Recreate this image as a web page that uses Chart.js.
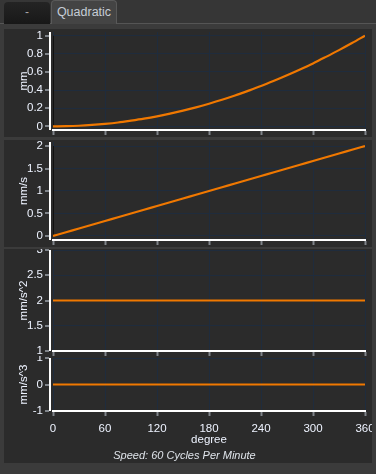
<!DOCTYPE html>
<html>
<head>
<meta charset="utf-8">
<script src="https://cdn.jsdelivr.net/npm/chart.js@4.4.1/dist/chart.umd.min.js"></script>
<style>
body { margin: 0; width: 376px; height: 474px; overflow: hidden; background: #3b3b3b; position: relative; font-family: "Liberation Sans", Arial, sans-serif; }
.tabbar { position: absolute; left: 0; top: 0; width: 376px; height: 23px; background: #363636; border-bottom: 1px solid #555; }
.tab { position: absolute; box-sizing: border-box; text-align: center; border-radius: 4px 4px 0 0; }
#tabDash { left: 4px; top: 2px; width: 46px; height: 22px; background: linear-gradient(#242424, #181818); color: #a8a8a8; font-size: 12px; line-height: 21px; }
#tabQuad { left: 51px; top: 0; width: 66px; height: 24px; background: #444; border: 1px solid #595959; border-bottom: none; color: #c6cdd6; font-size: 12.5px; line-height: 23px; }
.panel { position: absolute; left: 4px; width: 368px; background: #2b2b2b; overflow: hidden; }
.panel canvas { position: absolute; left: 0; top: 0; }
</style>
</head>
<body>
<div class="tabbar"></div>
<div class="tab" id="tabDash">-</div>
<div class="tab" id="tabQuad">Quadratic</div>
<div class="panel" style="top:29px;height:108px"><canvas id="pos" width="368" height="108"></canvas></div>
<div class="panel" style="top:140px;height:107px"><canvas id="vel" width="368" height="107"></canvas></div>
<div class="panel" style="top:249px;height:107px"><canvas id="acc" width="368" height="107"></canvas></div>
<div class="panel" style="top:356px;height:107px"><canvas id="jerk" width="368" height="107"></canvas></div>
<script>
// cam angle, degrees
const degrees = [0, 15, 30, 45, 60, 75, 90, 105, 120, 135, 150, 165, 180, 195, 210, 225, 240, 255, 270, 285, 300, 315, 330, 345, 360];
// follower position (mm)
const position = [0, 0.002, 0.007, 0.016, 0.028, 0.043, 0.063, 0.085, 0.111, 0.141, 0.174, 0.21, 0.25,
    0.293, 0.34, 0.391, 0.444, 0.502, 0.563, 0.627, 0.694, 0.766, 0.84, 0.918, 1];
// velocity (mm/s)
const velocity = [0, 0.083, 0.167, 0.25, 0.333, 0.417, 0.5, 0.583, 0.667, 0.75, 0.833, 0.917, 1,
    1.083, 1.167, 1.25, 1.333, 1.417, 1.5, 1.583, 1.667, 1.75, 1.833, 1.917, 2];
// acceleration (mm/s^2)
const acceleration = [2, 2, 2, 2, 2, 2, 2, 2, 2, 2, 2, 2, 2, 2, 2, 2, 2, 2, 2, 2, 2, 2, 2, 2, 2];
// jerk (mm/s^3)
const jerk = [0, 0, 0, 0, 0, 0, 0, 0, 0, 0, 0, 0, 0, 0, 0, 0, 0, 0, 0, 0, 0, 0, 0, 0, 0];

const xTicks = [0, 60, 120, 180, 240, 300, 360];
const posTicks = [0, 0.2, 0.4, 0.6, 0.8, 1];
const velTicks = [0, 0.5, 1, 1.5, 2];
const accTicks = [1, 1.5, 2, 2.5, 3];
const jerkTicks = [-1, 0, 1];
const cursorDeg = 0;
const speedText = 'Speed: 60 Cycles Per Minute';

const gridColor = '#1f2c3d';
const labelColor = '#eef3ff';

// white y axis line sits a few px left of the plot, with grey stubs
const axisFrame = {
    id: 'axisFrame',
    afterDraw(chart) {
        const ctx = chart.ctx;
        const a = chart.chartArea;
        const y = chart.scales.y;
        ctx.save();
        ctx.strokeStyle = '#80858b';
        ctx.lineWidth = 2;
        y.ticks.forEach(t => {
            const py = Math.round(y.getPixelForValue(t.value));
            ctx.beginPath();
            ctx.moveTo(a.left - 8, py);
            ctx.lineTo(a.left - 4, py);
            ctx.stroke();
        });
        ctx.strokeStyle = '#ffffff';
        ctx.lineWidth = 2;
        ctx.beginPath();
        ctx.moveTo(a.left - 3, a.top);
        ctx.lineTo(a.left - 3, a.bottom);
        ctx.stroke();
        ctx.restore();
    }
};

function makeChart(id, values, yTicks, yMin, yMax, yLabel, chartTop, xHeight, last) {
    const lo = Math.min(...values);
    const hi = Math.max(...values);
    return new Chart(document.getElementById(id), {
        type: 'line',
        data: {
            datasets: [{
                data: degrees.map((d, i) => ({ x: d, y: values[i] })),
                borderColor: '#f07800',
                borderWidth: 2.2,
                pointRadius: 0,
                cubicInterpolationMode: 'monotone'
            }, {
                // cursor line at the current angle
                data: [{ x: cursorDeg, y: lo }, { x: cursorDeg, y: hi }],
                borderColor: '#111111',
                borderWidth: 2,
                pointRadius: 0
            }]
        },
        options: {
            responsive: false,
            animation: false,
            devicePixelRatio: 1,
            layout: { padding: { top: chartTop, right: 7, left: 0, bottom: 0 } },
            plugins: {
                legend: { display: false },
                tooltip: { enabled: false },
                title: {
                    display: last,
                    text: speedText,
                    position: 'bottom',
                    color: '#dfe4ea',
                    font: { family: 'Liberation Sans', size: 11, style: 'italic', weight: 'normal' },
                    padding: { top: 0, bottom: 0 }
                }
            },
            scales: {
                x: {
                    type: 'linear',
                    min: 0,
                    max: 360,
                    afterBuildTicks: s => { s.ticks = xTicks.map(v => ({ value: v })); },
                    afterFit: s => { s.height = xHeight; s.paddingLeft = 0; s.paddingRight = 0; },
                    grid: { color: gridColor, lineWidth: 1, drawTicks: true, tickLength: 5, tickColor: '#80858b', tickWidth: 2 },
                    border: { display: true, color: '#ffffff', width: 2 },
                    ticks: {
                        display: last,
                        color: labelColor,
                        padding: 6,
                        maxRotation: 0,
                        callback: v => String(v),
                        font: { family: 'Liberation Sans', size: 11.5 }
                    },
                    title: {
                        display: last,
                        text: 'degree',
                        color: labelColor,
                        font: { family: 'Liberation Sans', size: 11.5 },
                        padding: { top: 0, bottom: 3 }
                    }
                },
                y: {
                    min: yMin,
                    max: yMax,
                    afterBuildTicks: s => { s.ticks = yTicks.map(v => ({ value: v })); },
                    afterFit: s => { s.width = 49; s.paddingTop = 0; s.paddingBottom = 0; },
                    grid: { color: gridColor, lineWidth: 1, drawTicks: false },
                    border: { display: false },
                    ticks: {
                        color: labelColor,
                        padding: 10,
                        callback: v => String(v),
                        font: { family: 'Liberation Sans', size: 11.5 }
                    },
                    title: {
                        display: true,
                        text: yLabel,
                        color: labelColor,
                        font: { family: 'Liberation Sans', size: 11.5 },
                        padding: { top: 13, bottom: 0 }
                    }
                }
            }
        },
        plugins: [axisFrame]
    });
}

makeChart('pos', position, posTicks, -0.04, 1.04, 'mm', 3, 7, false);
makeChart('vel', velocity, velTicks, -0.09, 2.09, 'mm/s', 2, 7, false);
makeChart('acc', acceleration, accTicks, 1, 3, 'mm/s^2', 1, 5, false);
makeChart('jerk', jerk, jerkTicks, -1, 1, 'mm/s^3', 2, 38.8, true);
</script>
</body>
</html>
